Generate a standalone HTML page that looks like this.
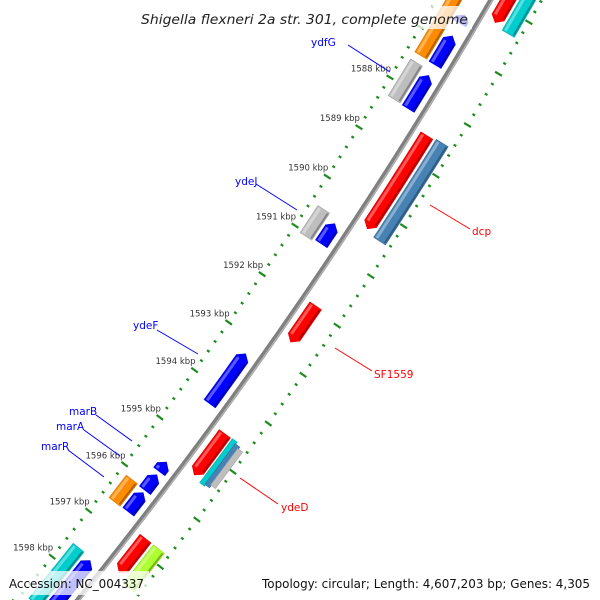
<!DOCTYPE html>
<html><head><meta charset="utf-8"><title>Shigella flexneri genome map</title>
<style>html,body{margin:0;padding:0;background:#fff;overflow:hidden;width:600px;height:600px;}svg{display:block;}</style></head>
<body>
<svg id="map" width="600" height="600" viewBox="0 0 600 600" xmlns="http://www.w3.org/2000/svg">
<g id="ticks"></g>
<g id="backbone"></g>
<g id="features"></g>
<g id="labels"></g>
<g id="overlay"></g>
</svg>
<script>
// Data (kbp)
const featStart = [1586.44,1586.85,1587.63,1590.60,1593.27,1595.54,1595.81,1596.19,1597.65,
                   1585.0,1587.55,1590.50,1596.13,1597.60,
                   1585.0,1588.51,1591.93,1594.57,1596.78,
                   1585.0,1588.48,1594.56,1594.60,1594.64,1596.78];
const featEnd   = [1586.60,1587.42,1588.29,1591.01,1594.31,1595.74,1596.14,1596.60,1598.70,
                   1587.41,1588.28,1591.05,1596.61,1598.80,
                   1586.29,1590.37,1592.67,1595.43,1597.50,
                   1586.34,1590.43,1595.48,1595.45,1595.40,1597.60];
const featRow   = [-1,-1,-1,-1,-1,-1,-1,-1,-1, -2,-2,-2,-2,-2, 1,1,1,1,1, 2,2,1.7,2,2.3,2];
const featColor = ['#0000ff','#0000ff','#0000ff','#0000ff','#0000ff','#0000ff','#0000ff','#0000ff','#0000ff',
                   '#ff8c00','#bebebe','#bebebe','#ff8c00','#00cdcd',
                   '#ff0000','#ff0000','#ff0000','#ff0000','#ff0000',
                   '#00cdcd','#4682b4','#00cdcd','#4682b4','#bebebe','#adff2f'];
const featHead  = [-1,-1,-1,-1,-1,-1,-1,-1,-1, 0,0,0,0,0, 1,1,1,1,1, 0,0,0,0,0,0];
const tickMajors = [1585,1586,1587,1588,1589,1590,1591,1592,1593,1594,1595,1596,1597,1598,1599];
const tickLabels = ['1588 kbp','1589 kbp','1590 kbp','1591 kbp','1592 kbp','1593 kbp','1594 kbp','1595 kbp','1596 kbp','1597 kbp','1598 kbp'];
const tickLabelPos = [1588,1589,1590,1591,1592,1593,1594,1595,1596,1597,1598];
const geneNames = ['ydfG','ydeJ','ydeF','marB','marA','marR','dcp','SF1559','ydeD'];

const NS='http://www.w3.org/2000/svg';
const CX=-3565, CY=-2351, R0=4688;
function ang(k){return (31.55+(k-1588)*0.7244)*Math.PI/180;}
function P(k,r){const a=ang(k);return [CX+r*Math.cos(a), CY+r*Math.sin(a)];}
function mk(tag,attrs,parent){const e=document.createElementNS(NS,tag);for(const a in attrs)e.setAttribute(a,attrs[a]);parent.appendChild(e);return e;}
function arcPts(k1,k2,r){const pts=[];const n=Math.max(4,Math.ceil(Math.abs(k2-k1)*10));for(let i=0;i<=n;i++){pts.push(P(k1+(k2-k1)*i/n,r));}return pts;}
function shade(hex,f){const n=parseInt(hex.slice(1),16);let r=n>>16,g=(n>>8)&255,b=n&255;
  if(f>0){r+=(255-r)*f;g+=(255-g)*f;b+=(255-b)*f;}else{r*=1+f;g*=1+f;b*=1+f;}
  return 'rgb('+Math.round(r)+','+Math.round(g)+','+Math.round(b)+')';}

// Backbone
const bb=document.getElementById('backbone');
const b1=mk('polyline',{points:arcPts(1584,1600,R0).map(p=>p.join(',')).join(' '),fill:'none',stroke:'#808080','stroke-width':5},bb);


const b2=mk('polyline',{points:arcPts(1584,1600,R0+1.5).map(p=>p.join(',')).join(' '),fill:'none',stroke:'#b0b0b0','stroke-width':1.5},bb);



// Ticks
const tg=document.getElementById('ticks');
[4641,4732].forEach(function(r){
  for(let k=1584;k<=1600.001;k+=0.2){
    const kk=Math.round(k*10)/10;
    const major=tickMajors.indexOf(Math.round(kk))>=0 && Math.abs(kk-Math.round(kk))<0.01;
    const len=major?8:3;
    const a=P(kk,r-len/2), b=P(kk,r+len/2);
    const t=mk('line',{x1:a[0],y1:a[1],x2:b[0],y2:b[1],stroke:'#1e8c1e','stroke-width':2.2},tg);
    
    
  }
});
tickLabelPos.forEach(function(k,i){
  const p=P(k,4641);
  const t=mk('text',{x:p[0]+1,y:p[1]-6,'text-anchor':'end','font-family':'DejaVu Sans, Liberation Sans, sans-serif','font-size':'8.5',fill:'#333'},tg);
  t.textContent=tickLabels[i];
  
  
});

// Features
const fg=document.getElementById('features');
featStart.forEach(function(s,i){
  const e=featEnd[i], row=featRow[i], col=featColor[i], head=featHead[i];
  const sign=row<0?-1:1, ar=Math.abs(row);
  const rc=R0+sign*(15+17*(ar-1));
  const frac=Math.abs(ar-Math.round(ar))>0.01 || (i>=21&&i<=23);
  const h=frac?3:7;
  const hl=Math.min(0.1,(e-s)*0.5);
  let s2=s,e2=e;
  if(head<0)s2=s+hl; if(head>0)e2=e-hl;
  let pts=arcPts(s2,e2,rc-h);
  if(head>0)pts.push(P(e,rc));
  pts=pts.concat(arcPts(s2,e2,rc+h).reverse());
  if(head<0)pts.push(P(s,rc));
  const poly=mk('polygon',{points:pts.map(p=>p.join(',')).join(' '),fill:col,stroke:shade(col,-0.15),'stroke-width':0.6},fg);
  
  
  if(!frac){
    const hi=mk('polyline',{points:arcPts(s2+0.02,e2-0.02,rc-h+3).map(p=>p.join(',')).join(' '),fill:'none',stroke:shade(col,0.35),'stroke-width':3},fg);
    
    
    const dk=mk('polyline',{points:arcPts(s2+0.02,e2-0.02,rc+h-1.5).map(p=>p.join(',')).join(' '),fill:'none',stroke:shade(col,-0.3),'stroke-width':2},fg);
    
    
  }
});

// Gene labels
const lg=document.getElementById('labels');
const geneLab=[[311,46,'#0000ff',348,45,390,72],[235,185,'#0000ff',256,184,297,210],
  [133,329,'#0000ff',157,330,198,354],[69,415,'#0000ff',96,415,132,441],
  [56,430,'#0000ff',84,430,120,456],[41,450,'#0000ff',68,450,104,477],
  [472,235,'#ff0000',430,205,470,229],[374,378,'#ff0000',335,348,372,371],
  [281,511,'#ff0000',240,478,278,504]];
geneNames.forEach(function(n,i){
  const g=geneLab[i];
  const l=mk('line',{x1:g[3],y1:g[4],x2:g[5],y2:g[6],stroke:g[2],'stroke-width':1},lg);
  
  
  const t=mk('text',{x:g[0],y:g[1],'font-family':'DejaVu Sans, Liberation Sans, sans-serif','font-size':'10.5',fill:g[2]},lg);
  t.textContent=n;
  
  
});
</script>
<script>
(function(){
const NS='http://www.w3.org/2000/svg';
const og=document.getElementById('overlay');
function mk(tag,attrs){const e=document.createElementNS(NS,tag);for(const a in attrs)e.setAttribute(a,attrs[a]);og.appendChild(e);return e;}
let r=mk('rect',{x:138,y:6,width:334,height:23,fill:'#fff','fill-opacity':0.75});


r=mk('rect',{x:5,y:571,width:144,height:24,fill:'#fff','fill-opacity':0.75});


r=mk('rect',{x:257,y:571,width:338,height:24,fill:'#fff','fill-opacity':0.75});


let t=mk('text',{x:141,y:24,'font-family':'DejaVu Sans, Liberation Sans, sans-serif','font-size':'13','font-style':'italic',fill:'#222',textLength:327,lengthAdjust:'spacingAndGlyphs'});
t.textContent='Shigella flexneri 2a str. 301, complete genome';


t=mk('text',{x:9,y:588,'font-family':'DejaVu Sans, Liberation Sans, sans-serif','font-size':'12.5',fill:'#111',textLength:135,lengthAdjust:'spacingAndGlyphs'});
t.textContent='Accession: NC_004337';


t=mk('text',{x:262,y:588,'font-family':'DejaVu Sans, Liberation Sans, sans-serif','font-size':'12.5',fill:'#111',textLength:328,lengthAdjust:'spacingAndGlyphs'});
t.textContent='Topology: circular; Length: 4,607,203 bp; Genes: 4,305';


})();
</script>
</body></html>
